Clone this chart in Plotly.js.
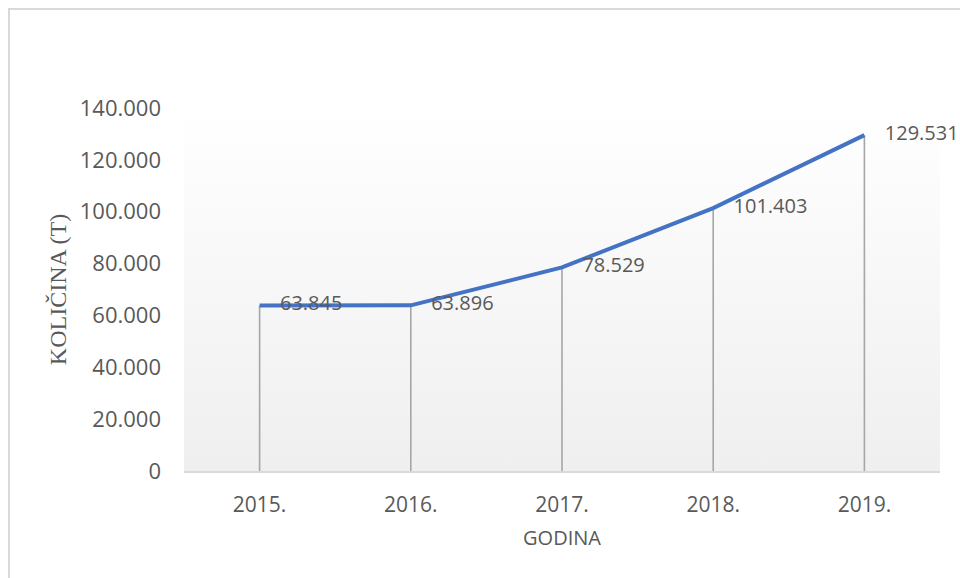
<!DOCTYPE html>
<html>
<head>
<meta charset="utf-8">
<script src="https://cdn.plot.ly/plotly-3.0.1.min.js"></script>
<style>html,body{margin:0;padding:0;background:#fff;}#chart{width:960px;height:578px;}</style>
</head>
<body>
<div id="chart"></div>
<script>
const years = ['2015.', '2016.', '2017.', '2018.', '2019.'];
const quantities = [63845, 63896, 78529, 101403, 129531];
const yTickValues = [0, 20000, 40000, 60000, 80000, 100000, 120000, 140000];
const xTitle = 'GODINA';
const yTitle = 'KOLIČINA (T)';

const gradSvg = '<svg xmlns="http://www.w3.org/2000/svg" width="100" height="100" preserveAspectRatio="none">' +
  '<defs><linearGradient id="g" x1="0" y1="0" x2="0" y2="1">' +
  '<stop offset="0" stop-color="#ffffff"/><stop offset="1" stop-color="#efefef"/></linearGradient></defs>' +
  '<rect width="100" height="100" fill="url(#g)"/></svg>';
const gradUri = 'data:image/svg+xml;base64,' + btoa(gradSvg);

const dropTrace = {
  x: years, y: quantities, type: 'scatter', mode: 'none',
  error_y: {type: 'data', symmetric: false, array: quantities.map(() => 0), arrayminus: quantities,
    width: 0, thickness: 1.6, color: '#a6a6a6'},
  hoverinfo: 'skip', showlegend: false
};
const lineTrace = {
  x: years, y: quantities, type: 'scatter', mode: 'lines+markers+text',
  line: {color: '#4472C4', width: 4},
  marker: {size: 31, color: 'rgba(0,0,0,0)'},
  texttemplate: '%{y:,.0f}', textposition: 'middle right',
  textfont: {family: 'Open Sans, sans-serif', size: 20, color: '#595959'},
  cliponaxis: false, showlegend: false
};

const layout = {
  width: 960, height: 578,
  margin: {l: 184, r: 20, t: 108, b: 107},
  paper_bgcolor: '#ffffff', plot_bgcolor: 'rgba(0,0,0,0)',
  separators: ',.',
  showlegend: false,
  font: {family: 'Open Sans, sans-serif', color: '#595959'},
  xaxis: {
    type: 'category', range: [-0.5, 4.5], showgrid: false, zeroline: false,
    showline: true, linecolor: '#d9d9d9', linewidth: 2,
    ticks: '', ticklabelstandoff: 14,
    tickfont: {size: 21, color: '#595959'},
    title: {text: xTitle, font: {size: 20, color: '#595959'}, standoff: 14}
  },
  yaxis: {
    range: [0, 140000], tickvals: yTickValues, tickformat: ',.0f',
    showgrid: false, zeroline: false, showline: false, ticks: '',
    ticklabelstandoff: 22,
    tickfont: {size: 22, color: '#595959'},
    title: {text: yTitle, font: {family: 'Liberation Serif, serif', size: 24, color: '#595959'}, standoff: 6}
  },
  images: [{source: gradUri, xref: 'paper', yref: 'paper', x: 0, y: 1, sizex: 1, sizey: 1,
    sizing: 'stretch', xanchor: 'left', yanchor: 'top', layer: 'below'}],
  shapes: [{type: 'rect', xref: 'paper', yref: 'paper', x0: -0.2315, x1: 1.03, y0: -0.31, y1: 1.2727,
    line: {color: '#d9d9d9', width: 2}, fillcolor: 'rgba(0,0,0,0)', layer: 'below'}]
};

Plotly.newPlot('chart', [dropTrace, lineTrace], layout, {displayModeBar: false, staticPlot: true});
</script>
</body>
</html>
